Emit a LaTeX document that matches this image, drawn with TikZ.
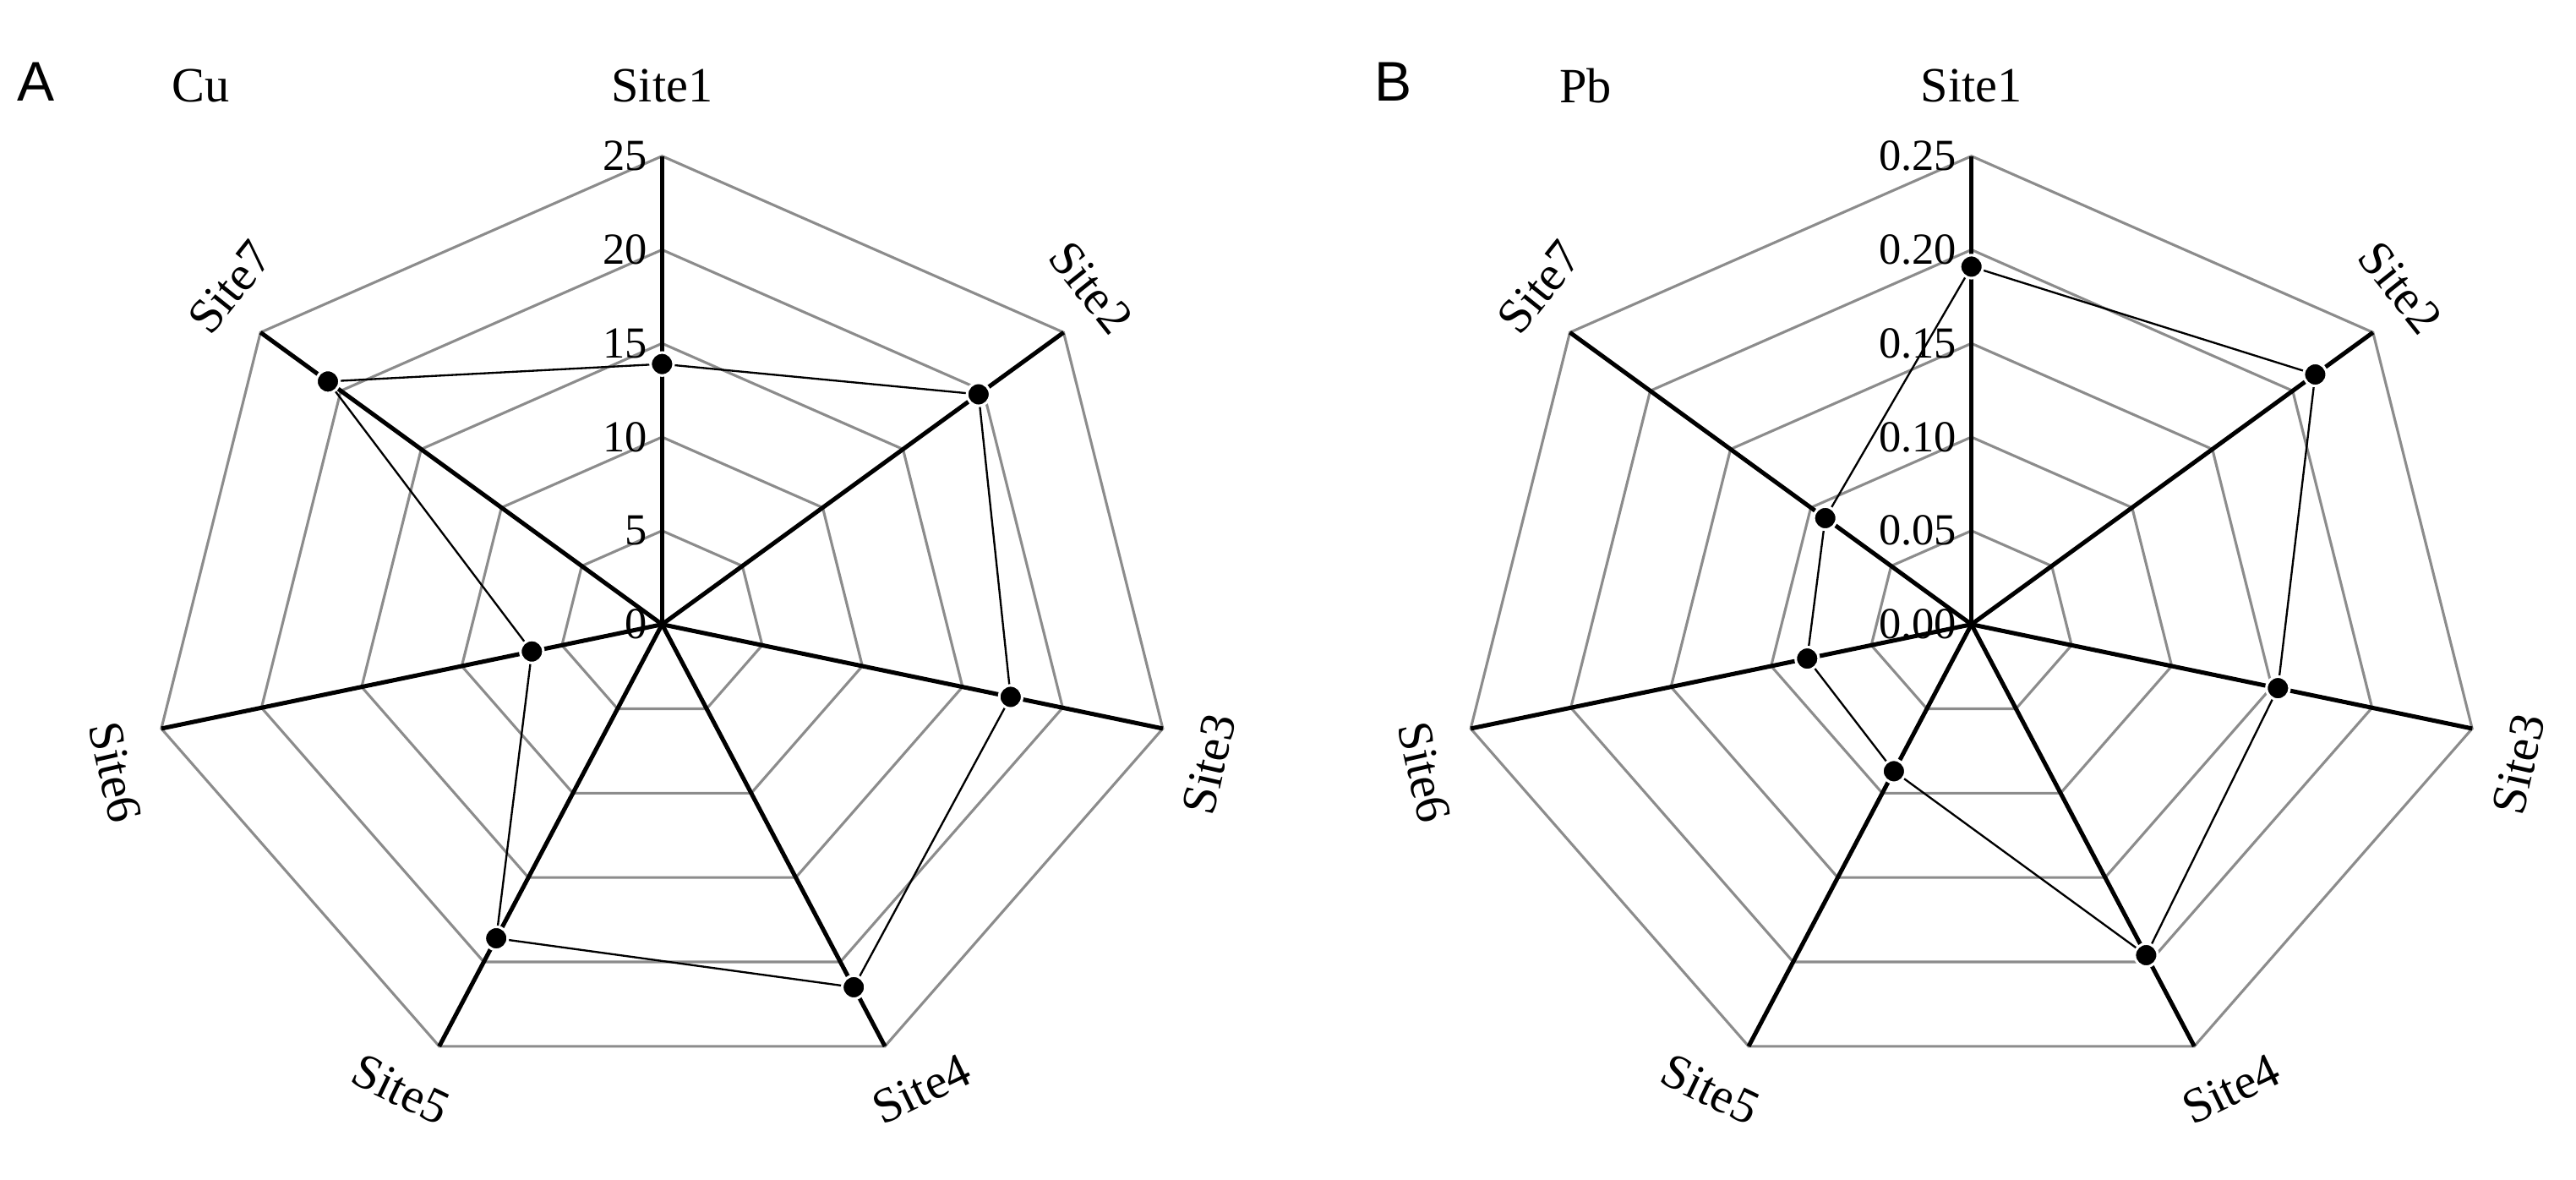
\documentclass[tikz,border=0pt]{standalone}
\usepackage{fontspec}
\setmainfont{Liberation Serif}
\newfontfamily\sansf{Liberation Sans}
\begin{document}
\begin{tikzpicture}[x=0.5pt,y=-0.5pt,
  ring/.style={draw=gray!90,line width=0.8pt},
  axis/.style={draw=black,line width=1.3pt},
  data/.style={draw=black,line width=0.6pt},
  mk/.style={circle,fill=black,draw=white,line width=0.8pt,inner sep=0pt,minimum size=7pt},
  site/.style={font=\fontsize{15}{15}\selectfont},
  tick/.style={font=\fontsize{13.5}{13.5}\selectfont,anchor=east,inner sep=1pt},
  panel/.style={font=\sansf\fontsize{17}{17}\selectfont}]
\useasboundingbox (0,0) rectangle (1568,718);
\newcommand{\radar}[5]{%
 % #1 center x, #2 prefix, #3 max, #4 tick list, #5 data list
 \begin{scope}[shift={(#1,380)},xscale=1.097]
  \foreach \i in {1,...,5}{
   \draw[ring] (-90:57*\i) \foreach \k in {1,...,6}{ -- (-90+\k*51.4286:57*\i)} -- cycle;}
  \foreach \k in {0,...,6}{\draw[axis] (0,0) -- (-90+\k*51.4286:285);}
  \foreach \v [count=\i from 0] in {#4}{\node[tick] at (-6,-57*\i) {\v};}
  \foreach \v [count=\k from 0] in {#5}{
   \coordinate (#2\k) at (-90+\k*51.4286:{285*\v/#3});}
  \draw[data] (#20)--(#21)--(#22)--(#23)--(#24)--(#25)--(#26)--cycle;
  \foreach \k in {0,...,6}{\node[mk] (#2m\k) at (#2\k) {};}
 \end{scope}}
\radar{403}{a}{25}{0,5,10,15,20,25}{13.9,19.7,17.4,21.5,18.6,6.5,20.8}
\radar{1200}{b}{0.25}{0.00,0.05,0.10,0.15,0.20,0.25}{0.191,0.214,0.153,0.196,0.087,0.082,0.091}
\node[panel] (pA) at (22,50) {A};
\node[site] (tA) at (122,52) {Cu};
\node[panel] (pB) at (848,50) {B};
\node[site] (tB) at (965,52) {Pb};
\foreach \dx/\p in {0/a,797/b}{
 \node[site] (\p s1) at (403+\dx,52) {Site1};
 \node[site,rotate=-51.4] (\p s2) at (664+\dx,175) {Site2};
 \node[site,rotate=77.1] (\p s3) at (736+\dx,465) {Site3};
 \node[site,rotate=25.7] (\p s4) at (561+\dx,663) {Site4};
 \node[site,rotate=-25.7] (\p s5) at (244+\dx,663) {Site5};
 \node[site,rotate=-77.1] (\p s6) at (70+\dx,470) {Site6};
 \node[site,rotate=51.4] (\p s7) at (140+\dx,175) {Site7};
}
\end{tikzpicture}
\end{document}
